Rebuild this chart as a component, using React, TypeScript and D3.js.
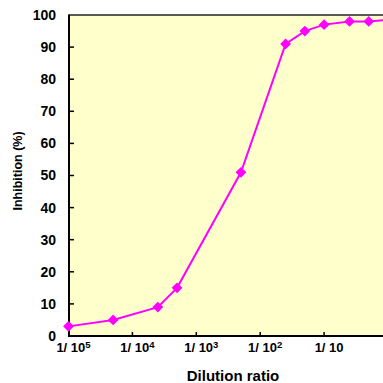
import React from "react";
import * as d3 from "d3";

// dilution ratios and inhibition %
const dilutions = [1e-5, 5e-5, 2.5e-4, 5e-4, 5e-3, 2.5e-2, 5e-2, 1e-1, 2.5e-1, 5e-1, 1];
const inhibition = [3, 5, 9, 15, 51, 91, 95, 97, 98, 98, 98.5];
const xTickExps = [5, 4, 3, 2, 1];
const yTicks = [0, 10, 20, 30, 40, 50, 60, 70, 80, 90, 100];

const W = 383;
const H = 383;
const margin = { left: 69, top: 15, bottom: 336 };
const font = "'Liberation Sans', Arial, sans-serif";

const App = () => {
  // log scale, ~64px per decade; plot runs off the right edge
  const xScale = d3.scaleLog().domain([1e-5, 1]).range([68.5, 388]);
  const yScale = d3.scaleLinear().domain([0, 100]).range([margin.bottom, margin.top]);

  const points = dilutions.map((d, i) => [xScale(d), yScale(inhibition[i])] as [number, number]);
  const line = d3.line()(points) || "";

  const diamond = (x: number, y: number) => {
    const r = 5.4;
    return `M${x},${y - r}L${x + r},${y}L${x},${y + r}L${x - r},${y}Z`;
  };

  return (
    <svg width={W} height={H} style={{ position: "absolute", left: 0, top: 0 }}>
      <rect x={margin.left} y={margin.top} width={W - margin.left + 20} height={margin.bottom - margin.top} fill="#ffffcc" />
      {/* top border */}
      <line x1={margin.left} x2={W} y1={margin.top} y2={margin.top} stroke="#222" strokeWidth={1.5} />
      {/* y ticks */}
      {yTicks.map(t => (
        <g key={t}>
          {t > 0 && t < 100 && (
            <line x1={margin.left} x2={margin.left + 5} y1={yScale(t)} y2={yScale(t)} stroke="#000" strokeWidth={1.5} />
          )}
          <text x={56} y={yScale(t)} dy="0.35em" textAnchor="end" fontFamily={font} fontWeight="bold" fontSize={14}>
            {t}
          </text>
        </g>
      ))}
      {/* x ticks */}
      {xTickExps.map(e => {
        const x = xScale(Math.pow(10, -e));
        return (
          <g key={e}>
            {e < 5 && <line x1={x} x2={x} y1={margin.bottom} y2={margin.bottom - 4} stroke="#000" strokeWidth={1.5} />}
            <text x={x + 5} y={352} textAnchor="middle" fontFamily={font} fontWeight="bold" fontSize={13}>
              {e === 1 ? "1/ 10" : (
                <>
                  1/ 10<tspan fontSize={9.5} dy={-4}>{e}</tspan>
                </>
              )}
            </text>
          </g>
        );
      })}
      {/* axes */}
      <line x1={margin.left} x2={margin.left} y1={margin.top - 0.5} y2={margin.bottom + 1} stroke="#000" strokeWidth={2} />
      <line x1={margin.left} x2={W} y1={margin.bottom} y2={margin.bottom} stroke="#000" strokeWidth={2} />
      {/* series */}
      <path d={line} fill="none" stroke="#ff00ff" strokeWidth={2} />
      {points.map(([x, y], i) => (
        <path key={i} d={diamond(x, y)} fill="#ff00ff" />
      ))}
      <text x={233} y={381} textAnchor="middle" fontFamily={font} fontWeight="bold" fontSize={15}>
        Dilution ratio
      </text>
      <text transform="translate(22,171) rotate(-90)" textAnchor="middle" fontFamily={font} fontWeight="bold" fontSize={12.5}>
        Inhibition (%)
      </text>
    </svg>
  );
};

export default App;
